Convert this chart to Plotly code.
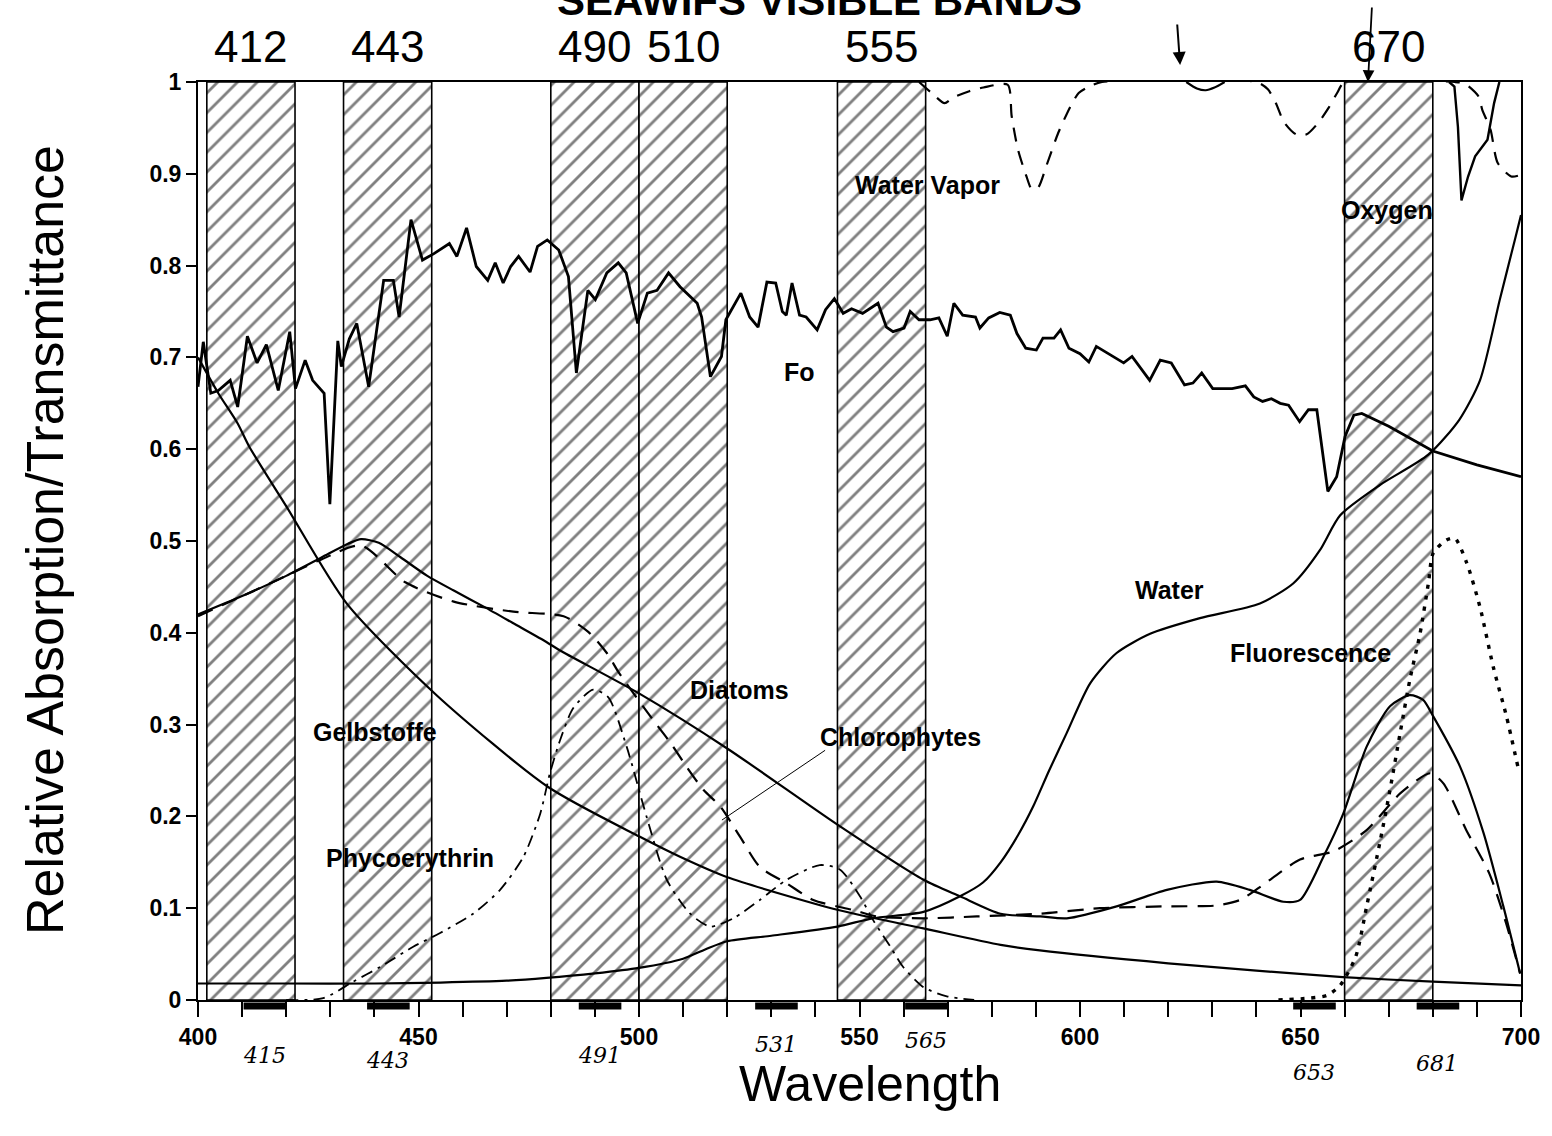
import plotly.graph_objects as go

# ---------------- data ----------------
band_labels = ["412", "443", "490", "510", "555", "670"]
band_centers = [412, 443, 490, 510, 555, 670]
band_widths = [20, 20, 20, 20, 20, 20]
band_top = [1, 1, 1, 1, 1, 1]

fo_wl = [400.0, 401.2, 402.9, 404.6, 407.3, 409.0, 411.2, 413.4, 415.5, 418.2, 420.8, 422.1, 424.3, 426.0,
         428.6, 429.9, 431.7, 432.5, 434.3, 436.0, 438.7, 442.1, 444.3, 445.6, 448.3, 450.9, 453.5, 457.0,
         458.7, 460.9, 463.1, 465.7, 467.4, 469.2, 470.9, 472.7, 475.3, 477.0, 479.2, 481.8, 484.0, 485.8,
         488.4, 490.1, 492.7, 495.3, 497.1, 499.7, 501.9, 504.1, 506.7, 509.3, 513.2, 514.2, 516.2, 518.7,
         519.7, 523.1, 525.1, 527.0, 529.0, 531.0, 532.5, 533.4, 534.7, 536.4, 537.9, 540.4, 542.3, 544.3,
         546.3, 548.2, 550.7, 554.2, 556.1, 557.6, 560.1, 561.5, 563.5, 566.0, 568.0, 569.9, 571.4, 573.4,
         576.3, 577.3, 579.3, 581.8, 584.2, 585.7, 587.7, 590.1, 591.6, 594.1, 595.6, 597.5, 600.0, 602.0,
         603.7, 606.9, 609.9, 611.8, 615.8, 618.2, 620.7, 623.7, 625.6, 627.6, 630.1, 634.5, 637.5, 639.4,
         641.4, 643.4, 645.4, 647.3, 649.8, 651.8, 653.7, 656.2, 658.2, 660.1, 662.1, 663.9, 670.0, 680.0,
         690.0, 700.0]
fo_val = [0.668, 0.717, 0.661, 0.664, 0.675, 0.646, 0.723, 0.694, 0.714, 0.664, 0.728, 0.666, 0.697, 0.675,
          0.661, 0.540, 0.718, 0.690, 0.720, 0.737, 0.668, 0.784, 0.784, 0.744, 0.850, 0.806, 0.813, 0.824,
          0.810, 0.841, 0.799, 0.784, 0.803, 0.781, 0.799, 0.810, 0.793, 0.821, 0.828, 0.817, 0.788, 0.683,
          0.773, 0.763, 0.792, 0.803, 0.792, 0.737, 0.770, 0.773, 0.792, 0.777, 0.759, 0.744, 0.679, 0.701,
          0.741, 0.770, 0.744, 0.733, 0.782, 0.781, 0.750, 0.746, 0.781, 0.746, 0.744, 0.730, 0.752, 0.764,
          0.748, 0.753, 0.748, 0.759, 0.733, 0.728, 0.732, 0.750, 0.741, 0.741, 0.743, 0.723, 0.759, 0.746,
          0.744, 0.732, 0.743, 0.749, 0.746, 0.726, 0.710, 0.708, 0.721, 0.721, 0.730, 0.710, 0.704, 0.695,
          0.712, 0.703, 0.694, 0.701, 0.675, 0.697, 0.694, 0.670, 0.672, 0.683, 0.666, 0.666, 0.669, 0.657,
          0.652, 0.655, 0.650, 0.648, 0.630, 0.643, 0.643, 0.554, 0.570, 0.614, 0.637, 0.639, 0.625, 0.598,
          0.583, 0.570]

water_wl = [400, 420, 440, 455, 470, 479, 490, 500, 510, 515, 520, 530, 545, 553, 564.5, 572.8, 578, 582,
            586, 589.4, 593, 597, 602.3, 608.3, 615.9, 627.2, 640.8, 648.4, 654.4, 659, 668, 679, 686,
            690.7, 695.2, 698.6, 700]
water_val = [0.018, 0.018, 0.018, 0.019, 0.021, 0.024, 0.029, 0.035, 0.045, 0.055, 0.064, 0.070, 0.080,
             0.089, 0.096, 0.113, 0.128, 0.150, 0.180, 0.211, 0.250, 0.291, 0.345, 0.378, 0.399, 0.416,
             0.432, 0.454, 0.490, 0.528, 0.561, 0.594, 0.632, 0.675, 0.763, 0.828, 0.855]

gelb_wl = [400, 404.6, 409, 411.6, 420, 433.7, 454.1, 479.4, 500.1, 509.3, 519.9, 545.2, 564.5, 582,
           590.9, 620, 640, 659.6, 680, 700]
gelb_val = [0.700, 0.661, 0.628, 0.603, 0.538, 0.432, 0.332, 0.232, 0.178, 0.156, 0.134, 0.098, 0.078,
            0.060, 0.054, 0.040, 0.032, 0.025, 0.020, 0.016]

diat_wl = [400, 410, 420, 428, 434, 437, 441, 446, 452, 458, 465, 472, 479, 482, 500, 520, 545, 564.5,
           572.8, 582, 591, 597, 608.3, 619.7, 631, 638.5, 646.1, 649.9, 655.2, 659.7, 665, 670.3, 674.8,
           677.8, 680.1, 686.2, 691.5, 696, 699.8]
diat_val = [0.420, 0.440, 0.462, 0.482, 0.497, 0.502, 0.498, 0.482, 0.462, 0.446, 0.428, 0.409, 0.390,
            0.381, 0.334, 0.274, 0.191, 0.131, 0.113, 0.094, 0.091, 0.089, 0.102, 0.120, 0.129, 0.120,
            0.107, 0.109, 0.156, 0.203, 0.276, 0.320, 0.332, 0.327, 0.309, 0.254, 0.182, 0.102, 0.029]

chlor_wl = [400, 410, 420, 428, 437, 447, 458, 471.5, 482.9, 488.5, 492.7, 495.5, 503.2, 507, 510.8,
            514.6, 518.4, 522.9, 527.4, 533.5, 539.5, 548.6, 553.9, 564.5, 576.6, 590.9, 604.5, 619.7,
            631, 636.3, 640.8, 649.9, 657.5, 665, 672.6, 679.4, 682.4, 687.6, 692.8, 696.6, 699.8]
chlor_val = [0.418, 0.440, 0.462, 0.480, 0.495, 0.455, 0.434, 0.423, 0.418, 0.401, 0.378, 0.356, 0.305,
             0.281, 0.254, 0.229, 0.211, 0.178, 0.145, 0.127, 0.109, 0.098, 0.091, 0.089, 0.091, 0.094,
             0.100, 0.102, 0.103, 0.109, 0.123, 0.153, 0.162, 0.185, 0.225, 0.247, 0.236, 0.185, 0.138,
             0.084, 0.029]

phyco_wl = [420, 428.4, 435.2, 441.3, 448.8, 454.9, 462.4, 468.5, 473.8, 477.6, 479.8, 482.1, 485.1,
            489.6, 493, 497.2, 501.7, 506.3, 511.6, 516.1, 521.4, 527.4, 533.5, 541, 545.6, 550.1, 553.1,
            557, 559.9, 564.5, 569.8, 576]
phyco_val = [0.0, 0.002, 0.020, 0.036, 0.058, 0.073, 0.094, 0.120, 0.156, 0.203, 0.247, 0.283, 0.318,
             0.338, 0.330, 0.276, 0.200, 0.131, 0.094, 0.080, 0.089, 0.109, 0.131, 0.147, 0.142, 0.113,
             0.087, 0.058, 0.036, 0.014, 0.004, 0.0]

fluor_wl = [645, 652, 656, 659, 662.5, 665, 668.1, 670.3, 672.6, 674.8, 677.1, 679, 680.1, 683.1, 685,
            687.7, 690.7, 693.7, 696.7, 699.3]
fluor_val = [0.0, 0.002, 0.005, 0.016, 0.047, 0.102, 0.174, 0.229, 0.291, 0.349, 0.399, 0.454, 0.487,
             0.501, 0.503, 0.476, 0.428, 0.363, 0.309, 0.254]

vapor_wl = [563.5, 566.6, 569.3, 571.2, 574.9, 578.1, 583.6, 584.5, 585.9, 587.8, 589.1, 590.5, 592.4,
            595.1, 597.9, 599.7, 602.5, 605, 640, 642.6, 644.4, 646.3, 649, 651.4, 654.1, 656.4, 658.3,
            660, 685, 687.3, 690.4, 691.2, 693.1, 694.7, 697.8, 700]
vapor_val = [1.0, 0.987, 0.977, 0.983, 0.990, 0.994, 0.997, 0.963, 0.927, 0.898, 0.883, 0.885, 0.909,
             0.945, 0.974, 0.988, 0.996, 1.0, 1.0, 0.992, 0.977, 0.956, 0.943, 0.943, 0.956, 0.972, 0.988,
             1.0, 1.0, 0.998, 0.984, 0.970, 0.948, 0.912, 0.897, 0.899]

vapor_small_wl = [624.1, 626.5, 628.5, 630.5, 632.8]
vapor_small_val = [1.0, 0.993, 0.991, 0.994, 1.0]

oxy_wl = [683.7, 684.9, 685.7, 686.5, 688.0, 689.6, 692.4, 693.9, 695.1]
oxy_val = [1.0, 0.995, 0.951, 0.871, 0.897, 0.919, 0.937, 0.977, 1.0]

pointer_wl = [518.8, 542.2]
pointer_val = [0.196, 0.272]

hand_marks = [415, 443, 491, 531, 565, 653, 681]
hand_labels = ["415", "443", "491", "531", "565", "653", "681"]

curve_labels = ["Water Vapor", "Oxygen", "Fo", "Water", "Fluorescence", "Diatoms", "Gelbstoffe",
                "Chlorophytes", "Phycoerythrin"]
curve_label_wl = [565.5, 669.6, 536.5, 620.4, 652.2, 522.9, 440.1, 559.2, 448.1]
curve_label_val = [0.888, 0.861, 0.684, 0.447, 0.378, 0.338, 0.292, 0.286, 0.155]

assert len(fo_wl) == len(fo_val)

# ---------------- figure ----------------
FONT = "Liberation Sans, Arial, Helvetica, sans-serif"
fig = go.Figure()

fig.add_trace(go.Bar(
    x=band_centers, y=band_top, width=band_widths, base=0,
    marker=dict(color="white", line=dict(color="black", width=1.6),
                pattern=dict(shape="/", fgcolor="black", bgcolor="white", size=14, solidity=0.2)),
    hoverinfo="skip"))

def line(x, y, width=2, dash="solid", shape="spline", smoothing=0.7):
    kw = dict(shape=shape, color="black", width=width, dash=dash)
    if shape == "spline":
        kw["smoothing"] = smoothing
    fig.add_trace(go.Scatter(x=x, y=y, mode="lines", line=kw, hoverinfo="skip"))

line(water_wl, water_val, width=2.2)
line(gelb_wl, gelb_val, width=2.2)
line(diat_wl, diat_val, width=2.2)
line(chlor_wl, chlor_val, width=2.2, dash="16px,10px")
line(phyco_wl, phyco_val, width=1.8, dash="12px,6px,3px,6px")
line(fluor_wl, fluor_val, width=3.4, dash="4px,7px")
line(fo_wl, fo_val, width=2.8, shape="linear")
line(vapor_wl, vapor_val, width=2.2, dash="14px,10px")
line(vapor_small_wl, vapor_small_val, width=2.2)
line(oxy_wl, oxy_val, width=2.4, shape="linear")
line(pointer_wl, pointer_val, width=1.0, shape="linear")

annotations = []
for t, xv, yv in zip(curve_labels, curve_label_wl, curve_label_val):
    annotations.append(dict(x=xv, y=yv, xref="x", yref="y", text=t, showarrow=False,
                            xanchor="center", yanchor="middle",
                            font=dict(family=FONT, size=25, color="black", weight="bold")))
for t, xv in zip(band_labels, band_centers):
    annotations.append(dict(x=xv, y=1.039, xref="x", yref="paper", text=t, showarrow=False,
                            xanchor="center", yanchor="middle",
                            font=dict(family=FONT, size=44, color="black")))
# hand-drawn marks under the axis (thick strokes) and hand-written numbers
hand_label_shift = [-55, -60, -55, -44, -40, -72, -63]
for m, t, s in zip(hand_marks, hand_labels, hand_label_shift):
    annotations.append(dict(x=m + 5, y=0, xref="x", yref="y", ax=m - 5, ay=0,
                            axref="x", ayref="y", yshift=-6, text="", showarrow=True, arrowhead=0,
                            arrowwidth=7, arrowcolor="black", standoff=0, startstandoff=0))
    annotations.append(dict(x=m, y=0, xref="x", yref="y", yshift=s, text=t, showarrow=False,
                            xanchor="center", yanchor="middle",
                            font=dict(family="DejaVu Serif, serif", size=22, color="black", style="italic")))
# title (cut off at the top of the page)
annotations.append(dict(x=0.470, y=1.0893, xref="paper", yref="paper", text="SEAWIFS VISIBLE BANDS",
                        showarrow=False, xanchor="center", yanchor="middle",
                        font=dict(family=FONT, size=42, color="black", weight="bold")))
# axis titles
annotations.append(dict(x=-0.1157, y=0.501, xref="paper", yref="paper",
                        text="Relative Absorption/Transmittance", textangle=-90, showarrow=False,
                        xanchor="center", yanchor="middle",
                        font=dict(family=FONT, size=52, color="black")))
annotations.append(dict(x=0.508, y=-0.0915, xref="paper", yref="paper", text="Wavelength",
                        showarrow=False, xanchor="center", yanchor="middle",
                        font=dict(family=FONT, size=50, color="black")))
# handwritten arrows
annotations.append(dict(x=622.7, y=1.0185, xref="x", yref="paper", text="", showarrow=True,
                        arrowhead=2, arrowsize=1.3, arrowwidth=2, arrowcolor="black", ax=-3, ay=-42))
annotations.append(dict(x=665.3, y=1.0, xref="x", yref="paper", text="", showarrow=True,
                        arrowhead=2, arrowsize=1.3, arrowwidth=1.8, arrowcolor="black", ax=4, ay=-76))

fig.update_layout(
    width=1552, height=1136,
    margin=dict(l=198, r=31, t=82, b=136),
    paper_bgcolor="white", plot_bgcolor="white",
    showlegend=False, barmode="overlay",
    font=dict(family=FONT, color="black"),
    annotations=annotations,
)
fig.update_xaxes(
    range=[400, 700], tickvals=[400, 450, 500, 550, 600, 650, 700],
    ticks="outside", ticklen=15, tickwidth=1.5, tickcolor="black",
    minor=dict(tick0=400, dtick=10, ticks="outside", ticklen=15, tickwidth=1.5, tickcolor="black"),
    showline=True, linecolor="black", linewidth=2, mirror=True,
    showgrid=False, zeroline=False,
    tickfont=dict(family=FONT, size=23, color="black", weight="bold"),
)
fig.update_yaxes(
    range=[0, 1], tickvals=[0, 0.1, 0.2, 0.3, 0.4, 0.5, 0.6, 0.7, 0.8, 0.9, 1],
    ticktext=["0", "0.1", "0.2", "0.3", "0.4", "0.5", "0.6", "0.7", "0.8", "0.9", "1"],
    ticks="outside", ticklen=10, tickwidth=1.5, tickcolor="black",
    showline=True, linecolor="black", linewidth=2, mirror=True,
    showgrid=False, zeroline=False,
    tickfont=dict(family=FONT, size=23, color="black", weight="bold"),
)

fig.write_html("out.html")
